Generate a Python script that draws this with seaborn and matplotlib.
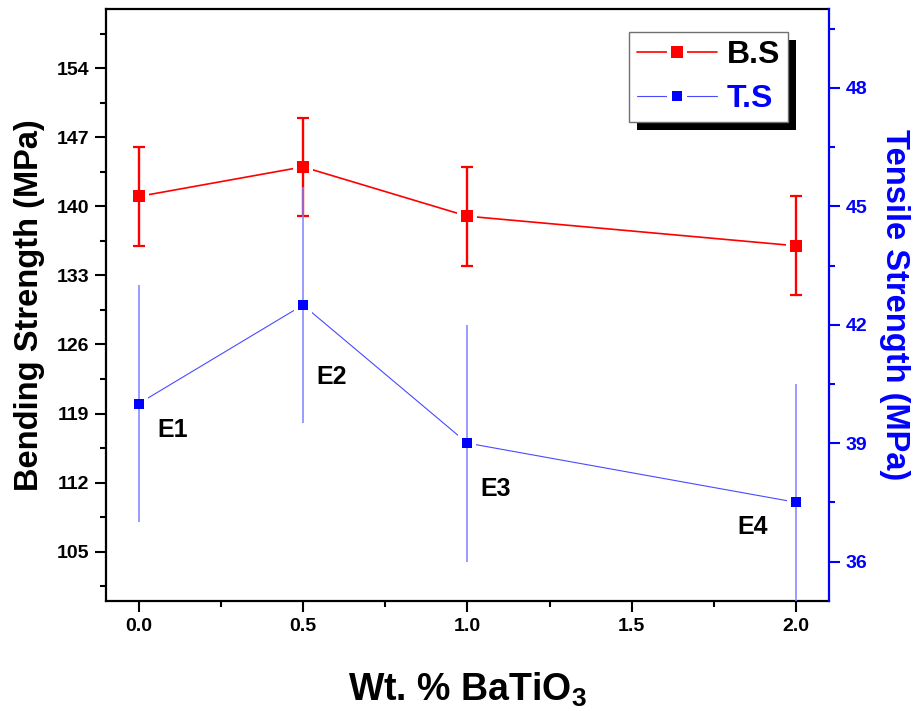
import matplotlib
matplotlib.use("Agg")
import matplotlib.pyplot as plt
from matplotlib.ticker import MultipleLocator
from matplotlib.lines import Line2D
from matplotlib.patches import Rectangle
from matplotlib.transforms import IdentityTransform
from matplotlib.legend_handler import HandlerTuple
import seaborn as sns
import pandas as pd

# ---- data ----
wt = [0.0, 0.5, 1.0, 2.0]
bs = [141, 144, 139, 136]
bs_err = [5, 5, 5, 5]
ts = [40, 42.5, 39, 37.5]
ts_err = [3, 3, 3, 3]
point_labels = ["E1", "E2", "E3", "E4"]
x_ticks = [0.0, 0.5, 1.0, 1.5, 2.0]
x_tick_labels = ["0.0", "0.5", "1.0", "1.5", "2.0"]
left_ticks = [105, 112, 119, 126, 133, 140, 147, 154]
right_ticks = [36, 39, 42, 45, 48]

df = pd.DataFrame({"wt": wt, "bs": bs, "ts": ts})

sns.set_theme(style="ticks")
plt.rcParams["font.family"] = ["Liberation Sans", "DejaVu Sans"]
plt.rcParams["font.weight"] = "bold"
plt.rcParams["mathtext.fontset"] = "custom"
plt.rcParams["mathtext.rm"] = "Liberation Sans:bold"
plt.rcParams["mathtext.bf"] = "Liberation Sans:bold"
plt.rcParams["text.color"] = "black"
plt.rcParams["axes.labelcolor"] = "black"
plt.rcParams["xtick.color"] = "black"
plt.rcParams["ytick.color"] = "black"
plt.rcParams["axes.edgecolor"] = "black"

RED = "#ff0000"
BLUE = "#0000ff"
BLUE_LINE = "#4a4aff"
BLUE_ERR = "#8080ff"

fig = plt.figure(figsize=(9.17, 7.11), dpi=100)
ax = fig.add_axes([105.7 / 917, 1 - 601 / 711, (829 - 105.7) / 917, 592 / 711])
ax2 = ax.twinx()

# ---- B.S (left axis) ----
sns.lineplot(data=df, x="wt", y="bs", ax=ax, color=RED, lw=1.2,
             errorbar=None, sort=False, zorder=2)
ax.plot(df["wt"], df["bs"], "s", color="white", ms=15, mew=0, zorder=2.5)
ax.errorbar(df["wt"], df["bs"], yerr=bs_err, fmt="none", ecolor=RED,
            elinewidth=1.7, capsize=4, capthick=1.6, zorder=3)
ax.plot(df["wt"], df["bs"], "s", color=RED, ms=8, mew=0, zorder=4)

# ---- T.S (right axis) ----
sns.lineplot(data=df, x="wt", y="ts", ax=ax2, color=BLUE_LINE, lw=0.8,
             errorbar=None, sort=False, zorder=2)
ax2.plot(df["wt"], df["ts"], "s", color="white", ms=13, mew=0, zorder=2.5)
ax2.errorbar(df["wt"], df["ts"], yerr=ts_err, fmt="none", ecolor=BLUE_ERR,
             elinewidth=1.1, capsize=0, zorder=3)
ax2.plot(df["wt"], df["ts"], "s", color=BLUE, ms=7.5, mew=0, zorder=4)

# point labels (offsets in pixels from the T.S points)
offsets = [(34, -26), (29, -72), (28, -46), (-43, -25)]
for xv, yv, lab, off in zip(wt, ts, point_labels, offsets):
    ax2.annotate(lab, (xv, yv), xytext=off, textcoords="offset pixels",
                 ha="center", va="center", fontsize=18, fontweight="bold",
                 color="black", zorder=6)

# ---- axes formatting ----
ax.set_xlim(-0.1, 2.1)
ax.set_ylim(100, 160)
ax2.set_ylim(35, 50)
ax.set_xticks(x_ticks)
ax.set_xticklabels(x_tick_labels)
ax.xaxis.set_minor_locator(MultipleLocator(0.25))
ax.set_yticks(left_ticks)
ax.yaxis.set_minor_locator(MultipleLocator(3.5))
ax2.set_yticks(right_ticks)
ax2.yaxis.set_minor_locator(MultipleLocator(1.5))

for a in (ax, ax2):
    for s in a.spines.values():
        s.set_linewidth(1.6)
ax.spines["right"].set_visible(False)
for s in ("left", "top", "bottom"):
    ax2.spines[s].set_visible(False)
ax2.spines["right"].set_color(BLUE)

ax.tick_params(axis="both", which="major", direction="out", length=8, width=1.5,
               labelsize=14, colors="black", pad=4)
ax.tick_params(axis="both", which="minor", direction="out", length=4.5, width=1.5,
               colors="black")
ax.tick_params(axis="x", top=False, which="both")
ax.tick_params(axis="y", right=False, which="both")
ax2.tick_params(axis="y", which="major", direction="out", length=8, width=1.5,
                labelsize=14, colors=BLUE, pad=4)
ax2.tick_params(axis="y", which="minor", direction="out", length=4.5, width=1.5,
                colors=BLUE)
for lab in ax.get_xticklabels() + ax.get_yticklabels() + ax2.get_yticklabels():
    lab.set_fontweight("bold")

ax.set_xlabel("Wt. % BaTiO$_{\\mathbf{3}}$", fontsize=27, fontweight="bold",
              labelpad=26, color="black")
ax.set_ylabel("Bending Strength (MPa)", fontsize=23.5, fontweight="bold",
              labelpad=8, color="black")
ax2.set_ylabel("Tensile Strength (MPa)", fontsize=23.5, fontweight="bold",
               color=BLUE, rotation=270, labelpad=31)

# ---- legend ----
def make_handle(color, lw, ms, gap_ms, face):
    line = Line2D([], [], color=color, lw=lw)
    gap = Line2D([], [], ls="none", marker="s", ms=gap_ms, mfc="white", mew=0)
    mark = Line2D([], [], ls="none", marker="s", ms=ms, mfc=face, mew=0)
    return (line, gap, mark)

h_bs = make_handle(RED, 1.2, 8, 15, RED)
h_ts = make_handle(BLUE_LINE, 0.8, 7.5, 15, BLUE)
leg = ax2.legend([h_bs, h_ts], ["B.S", "T.S"], loc="upper right",
                 bbox_to_anchor=(0.943, 0.961), borderaxespad=0,
                 handler_map={tuple: HandlerTuple(ndivide=1, pad=0)},
                 prop={"size": 23, "weight": "bold"}, fancybox=False,
                 frameon=True, edgecolor="#707070", framealpha=1,
                 handlelength=2.5, handletextpad=0.3, labelspacing=0.45,
                 borderpad=0.25)
leg.get_frame().set_linewidth(1.0)
leg.get_texts()[0].set_color("black")
leg.get_texts()[1].set_color(BLUE)
leg.set_zorder(10)

fig.canvas.draw()
bb = leg.get_window_extent()
shadow = Rectangle((bb.x0 + 8, bb.y0 - 8), bb.width, bb.height,
                   transform=IdentityTransform(), facecolor="black",
                   edgecolor="none", zorder=9)
ax2.add_patch(shadow)
shadow.set_clip_on(False)

fig.savefig("out.png", dpi=100)
